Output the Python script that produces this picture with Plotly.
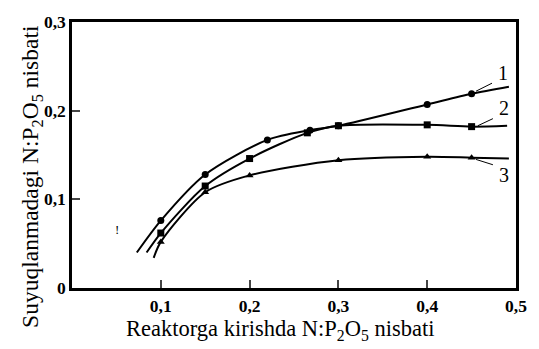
import plotly.graph_objects as go

# egri chiziqlar (silliq) va o'lchangan nuqtalar
x1 = [0.073, 0.1, 0.15, 0.22, 0.268, 0.3, 0.4, 0.45, 0.492]
y1 = [0.040, 0.076, 0.128, 0.167, 0.178, 0.183, 0.207, 0.219, 0.227]
x1_pts = [0.1, 0.15, 0.22, 0.268, 0.3, 0.4, 0.45]
y1_pts = [0.076, 0.128, 0.167, 0.178, 0.183, 0.207, 0.219]

x2 = [0.084, 0.1, 0.15, 0.2, 0.265, 0.3, 0.4, 0.45, 0.49]
y2 = [0.040, 0.062, 0.115, 0.146, 0.175, 0.183, 0.184, 0.182, 0.183]
x2_pts = [0.1, 0.15, 0.2, 0.265, 0.3, 0.4, 0.45]
y2_pts = [0.062, 0.115, 0.146, 0.175, 0.183, 0.184, 0.182]

x3 = [0.092, 0.1, 0.15, 0.2, 0.3, 0.4, 0.45, 0.492]
y3 = [0.034, 0.052, 0.108, 0.127, 0.144, 0.148, 0.147, 0.146]
x3_pts = [0.1, 0.15, 0.2, 0.3, 0.4, 0.45]
y3_pts = [0.052, 0.108, 0.127, 0.144, 0.148, 0.147]

x_ticks = [0.1, 0.2, 0.3, 0.4, 0.5]
x_labels = ['<b>0,1</b>', '<b>0,2</b>', '<b>0,3</b>', '<b>0,4</b>', '<b>0,5</b>']
y_ticks = [0, 0.1, 0.2, 0.3]
y_labels = ['<b>0</b>', '<b>0,1</b>', '<b>0,2</b>', '<b>0,3</b>']

serif = 'Liberation Serif'
fig = go.Figure()
for xs, ys, xp, yp, sym in [(x1, y1, x1_pts, y1_pts, 'circle'),
                            (x2, y2, x2_pts, y2_pts, 'square'),
                            (x3, y3, x3_pts, y3_pts, 'triangle-up')]:
    fig.add_trace(go.Scatter(x=xs, y=ys, mode='lines', line=dict(color='black', width=2, shape='spline', smoothing=0.8),
                             showlegend=False, hoverinfo='skip'))
    fig.add_trace(go.Scatter(x=xp, y=yp, mode='markers', marker=dict(color='black', size=7, symbol=sym),
                             showlegend=False))

# egri raqamlari
for lab, xl, yl, xa, ya in [('1', 0.485, 0.243, 0.455, 0.222),
                           ('2', 0.486, 0.203, 0.457, 0.183),
                           ('3', 0.486, 0.127, 0.455, 0.145)]:
    fig.add_annotation(x=xl, y=yl, text=lab, showarrow=False, font=dict(family=serif, size=20, color='black'))
    fig.add_shape(type='line', x0=xa, y0=ya, x1=xl - 0.012, y1=yl + (0.012 if yl < ya else -0.012),
                  line=dict(color='black', width=1))
fig.add_annotation(x=0.051, y=0.066, text='!', showarrow=False, font=dict(family=serif, size=13, color='black'))

# o'q nomlari
fig.add_annotation(xref='paper', yref='paper', x=-0.127, y=0.42,
                   text='Suyuqlanmadagi N:P<sub>2</sub>O<sub>5</sub> nisbati',
                   textangle=-90, showarrow=False, font=dict(family=serif, size=23.5, color='black'))
fig.add_annotation(xref='paper', yref='paper', x=0.469, y=-0.218,
                   text='Reaktorga kirishda N:P<sub>2</sub>O<sub>5</sub> nisbati',
                   showarrow=False, font=dict(family=serif, size=22.5, color='black'))

fig.update_layout(
    width=539, height=349,
    margin=dict(l=72, r=17, t=20, b=61),
    paper_bgcolor='white', plot_bgcolor='white',
    font=dict(family=serif, size=17.5, color='black'),
    xaxis=dict(range=[0, 0.5], tickvals=x_ticks, ticktext=x_labels, ticks='inside', ticklen=8, tickwidth=2,
               showline=True, linewidth=2.5, linecolor='black', mirror=True, showgrid=False, zeroline=False),
    yaxis=dict(range=[0, 0.3], tickvals=y_ticks, ticktext=y_labels, ticks='inside', ticklen=8, tickwidth=2,
               showline=True, linewidth=2.5, linecolor='black', mirror=True, showgrid=False, zeroline=False),
)
fig.write_html('out.html', config={'displayModeBar': False},
               post_script="document.body.style.margin='0';")
